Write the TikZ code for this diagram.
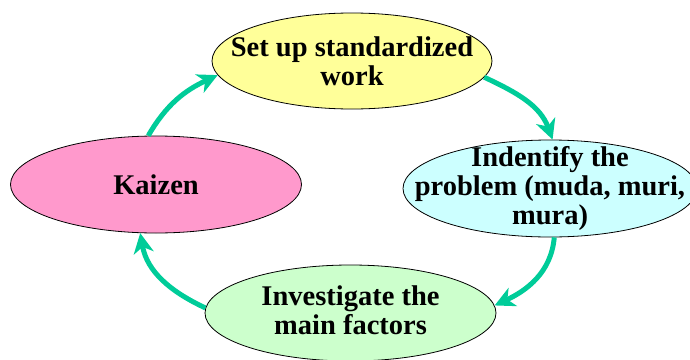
\documentclass[tikz,border=0pt]{standalone}
\usepackage{fontspec}
\setmainfont{Liberation Serif}
\usetikzlibrary{shapes.geometric,arrows.meta}
\definecolor{cyellow}{HTML}{FFFF99}
\definecolor{ccyan}{HTML}{CCFFFF}
\definecolor{cpink}{HTML}{FF99CC}
\definecolor{cgreen}{HTML}{CCFFCC}
\definecolor{carrow}{HTML}{00CC99}
\tikzset{
  bubble/.style={ellipse, draw=black, line width=0.8pt, inner sep=0pt,
    minimum width=290pt, minimum height=97pt},
  btext/.style={align=center, inner sep=0pt,
    font=\fontsize{28.5}{29}\selectfont\bfseries},
  cyc/.style={draw=carrow, line width=5pt,
    -{Stealth[length=20pt,width=20pt,inset=6pt]}},
}
\begin{document}
\begin{tikzpicture}[x=1pt,y=-1pt]
\useasboundingbox (0,0) rectangle (690,359);
\clip (0,0) rectangle (690,359);
\node[bubble, fill=cyellow, minimum width=280pt, minimum height=96pt] (top) at (352,61) {};
\node[btext] (toptext) at (top.center) {Set up standardized\\work};
\node[bubble, fill=ccyan, minimum width=294pt] (right) at (550,188.5) {};
\node[btext] (righttext) at (right.center) {Indentify the\\problem (muda, muri,\\mura)};
\node[bubble, fill=cgreen, minimum width=291pt, minimum height=96pt] (bottom) at (350.5,313) {};
\node[btext] (bottomtext) at ([yshift=3pt]bottom.center) {Investigate the\\main factors};
\node[bubble, fill=cpink, minimum width=291pt] (left) at (156,184.5) {};
\node[btext] (lefttext) at (left.center) {Kaizen};
\draw[cyc] (top.-7) to[out=-25,in=110] (right.87);
\draw[cyc] (right.-85) to[out=-95,in=25] (bottom.3);
\draw[cyc] (bottom.178) to[out=155,in=-80] (left.-108);
\draw[cyc] (left.99) to[out=60,in=205] (top.186);
\end{tikzpicture}
\end{document}
